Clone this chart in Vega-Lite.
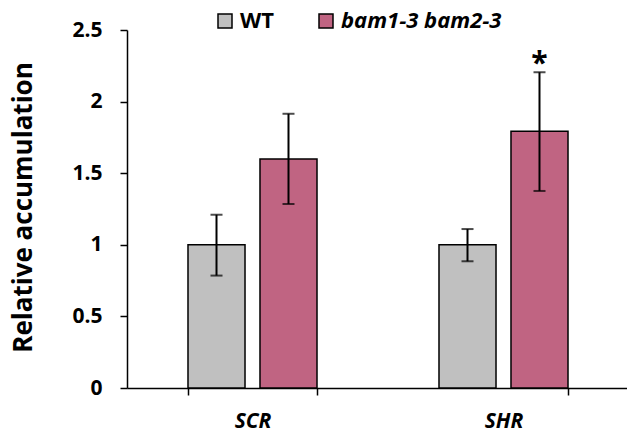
{
  "$schema": "https://vega.github.io/schema/vega-lite/v6.json",
  "autosize": {"type": "none"},
  "padding": {"left": 127, "top": 30, "right": 0, "bottom": 48},
  "width": 502,
  "height": 358,
  "background": "white",
  "config": {
    "view": {"stroke": null},
    "font": "Open Sans",
    "axis": {"grid": false, "domainColor": "black", "tickColor": "black", "domainWidth": 1.5, "tickWidth": 1.5, "labelColor": "black", "titleColor": "black"}
  },
  "data": {
    "values": [
      {"gene": "SCR", "genotype": "WT", "mean": 1.0, "lo": 0.785, "hi": 1.21, "sig": ""},
      {"gene": "SCR", "genotype": "bam1-3 bam2-3", "mean": 1.6, "lo": 1.285, "hi": 1.915, "sig": ""},
      {"gene": "SHR", "genotype": "WT", "mean": 1.0, "lo": 0.885, "hi": 1.11, "sig": ""},
      {"gene": "SHR", "genotype": "bam1-3 bam2-3", "mean": 1.793, "lo": 1.376, "hi": 2.205, "sig": "*"}
    ]
  },
  "encoding": {
    "x": {
      "field": "gene", "type": "nominal", "sort": ["SCR", "SHR"],
      "scale": {"paddingInner": 0.486, "paddingOuter": 0.243},
      "axis": {"title": null, "labelAngle": 0, "labelFont": "Open Sans", "labelFontSize": 21, "labelFontWeight": "bold", "labelFontStyle": "italic", "labelPadding": 15, "tickBand": "extent", "tickExtra": true, "tickSize": 7, "domainWidth": 1.5}
    },
    "xOffset": {
      "field": "genotype", "type": "nominal", "sort": ["WT", "bam1-3 bam2-3"],
      "scale": {"paddingInner": 0.208, "paddingOuter": 0}
    }
  },
  "layer": [
    {
      "mark": {"type": "bar", "stroke": "black", "strokeWidth": 1.5},
      "encoding": {
        "y": {
          "field": "mean", "type": "quantitative",
          "scale": {"domain": [0, 2.5], "nice": false},
          "axis": {"values": [0, 0.5, 1, 1.5, 2, 2.5], "format": "~g", "title": "Relative accumulation", "titleFontSize": 26, "titleFontWeight": "bold", "titleX": -104, "titleY": 177, "titleAngle": -90, "titleBaseline": "middle", "titleAlign": "center", "labelFontSize": 21, "labelFontWeight": "bold", "labelPadding": 18, "tickSize": 7}
        },
        "color": {
          "field": "genotype", "type": "nominal", "sort": ["WT", "bam1-3 bam2-3"],
          "scale": {"domain": ["WT", "bam1-3 bam2-3"], "range": ["#c0c0c0", "#c06482"]},
          "legend": {
            "title": null, "orient": "none", "direction": "horizontal", "legendX": 87, "legendY": -20,
            "symbolType": "square", "symbolSize": 196, "symbolStrokeColor": "black", "symbolStrokeWidth": 1.5,
            "labelFontSize": 22, "labelFontWeight": "bold", "labelColor": "black", "labelOffset": 4, "labelLimit": 400, "columnPadding": 40,
            "encode": {"labels": {"update": {"fontStyle": {"signal": "datum.label == 'WT' ? 'normal' : 'italic'"}}}}
          }
        }
      }
    },
    {
      "mark": {"type": "rule", "color": "black", "strokeWidth": 2},
      "encoding": {
        "y": {"field": "lo", "type": "quantitative"},
        "y2": {"field": "hi"}
      }
    },
    {
      "mark": {"type": "tick", "color": "black", "thickness": 2, "size": 12, "orient": "horizontal"},
      "encoding": {"y": {"field": "lo", "type": "quantitative"}}
    },
    {
      "mark": {"type": "tick", "color": "black", "thickness": 2, "size": 12, "orient": "horizontal"},
      "encoding": {"y": {"field": "hi", "type": "quantitative"}}
    },
    {
      "mark": {"type": "text", "fontSize": 30, "fontWeight": "bold", "baseline": "middle", "dy": -8, "color": "black"},
      "encoding": {
        "y": {"field": "hi", "type": "quantitative"},
        "text": {"field": "sig"}
      }
    }
  ]
}
